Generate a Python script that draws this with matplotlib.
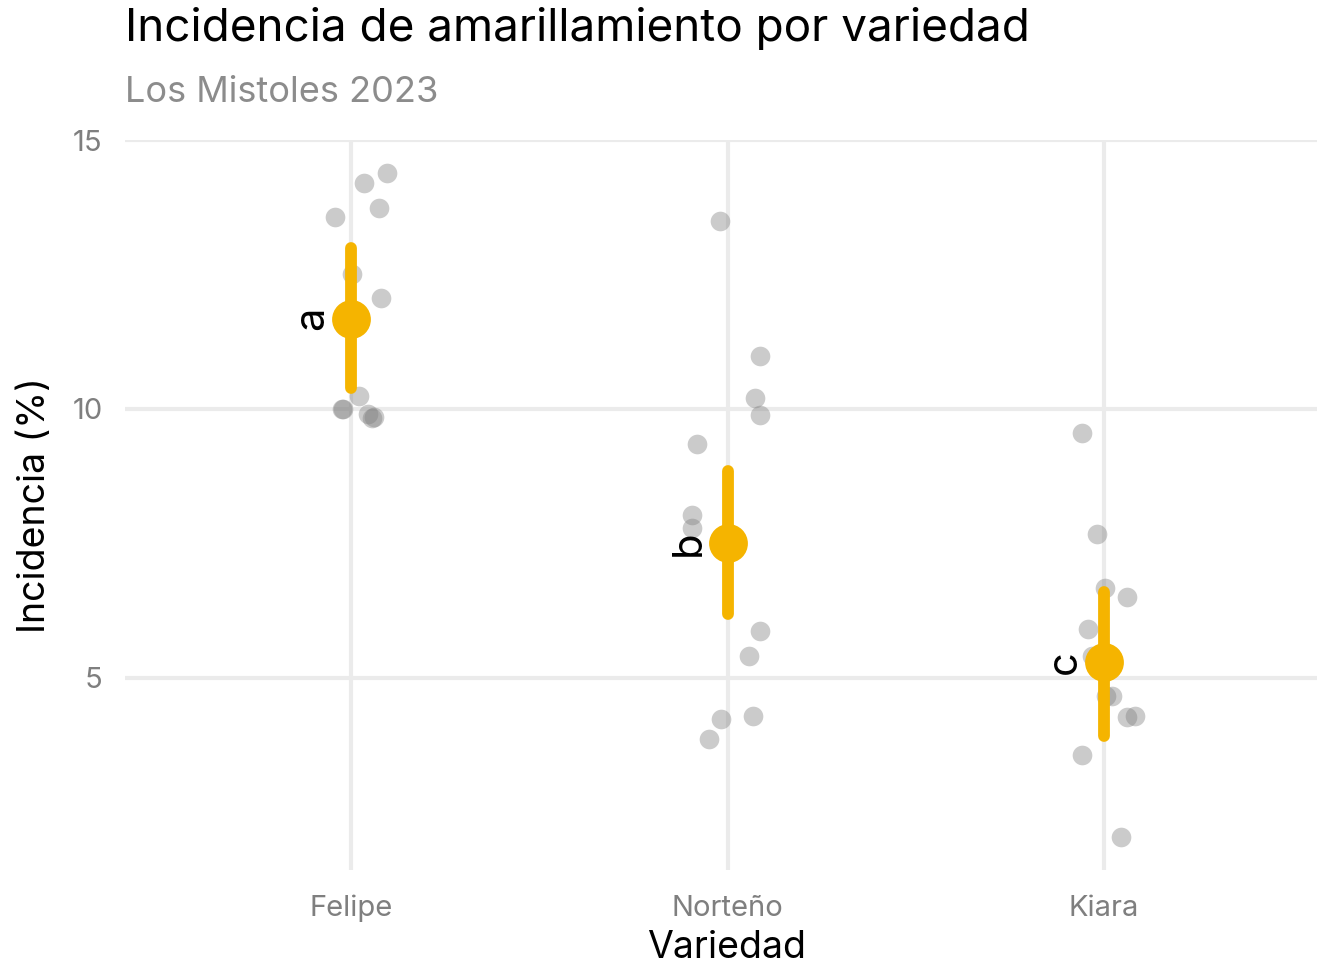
import matplotlib
matplotlib.use("Agg")
import matplotlib.pyplot as plt

plt.rcParams['font.family'] = ['Inter', 'DejaVu Sans']

# ---- data ----
variedades = ["Felipe", "Norteño", "Kiara"]
felipe_obs = [14.39, 14.20, 13.74, 13.57, 12.51, 12.07, 10.25, 10.00, 10.00, 9.91, 9.84, 9.86]
felipe_jit = [0.095, 0.035, 0.075, -0.042, 0.003, 0.080, 0.021, -0.024, -0.022, 0.045, 0.056, 0.060]
norteno_obs = [13.50, 10.99, 10.21, 9.89, 9.34, 8.02, 7.78, 5.87, 5.40, 4.29, 4.24, 3.87]
norteno_jit = [-0.019, 0.085, 0.072, 0.085, -0.080, -0.095, -0.095, 0.085, 0.056, 0.069, -0.016, -0.050]
kiara_obs = [9.55, 7.67, 6.67, 6.50, 5.91, 5.41, 4.67, 4.67, 4.27, 4.29, 3.57, 2.05]
kiara_jit = [-0.058, -0.019, 0.003, 0.061, -0.042, -0.032, 0.005, 0.021, 0.061, 0.082, -0.058, 0.045]
medias = [11.68, 7.50, 5.30]
ic_inf = [10.39, 6.18, 3.93]
ic_sup = [12.99, 8.84, 6.60]
letras = ["a", "b", "c"]

obs = [felipe_obs, norteno_obs, kiara_obs]
jit = [felipe_jit, norteno_jit, kiara_jit]

YELLOW = "#F5B400"
GRID = "#EBEBEB"
W, H = 1317, 969

fig = plt.figure(figsize=(W/100, H/100), dpi=100)
ax = fig.add_axes([125/W, (H-870)/H, (1330-125)/W, (870-140)/H])

for i, (ys, js) in enumerate(zip(obs, jit)):
    xs = [i + 1 + j for j in js]
    ax.scatter(xs, ys, s=200, color="#7F7F7F", alpha=0.4, linewidths=0, zorder=3)

for i in range(3):
    x = i + 1
    ax.plot([x, x], [ic_inf[i], ic_sup[i]], color=YELLOW, lw=8.5, solid_capstyle="round", zorder=4)
    ax.scatter([x], [medias[i]], s=780, color=YELLOW, linewidths=0, zorder=5)
    ax.text(x - 0.074, medias[i], letras[i], rotation=90, rotation_mode="anchor",
            ha="center", va="baseline", fontsize=30, color="black", zorder=6)

ax.set_xlim(0.4, 3.6)
ax.set_ylim(1.43, 15.0)
ax.set_xticks([1, 2, 3])
ax.set_xticklabels(variedades)
ax.set_yticks([5, 10, 15])
ax.tick_params(axis="both", length=0, labelsize=21, labelcolor="#7F7F7F")
ax.tick_params(axis="x", pad=18)
ax.tick_params(axis="y", pad=16)
ax.grid(True, color=GRID, lw=3)
ax.set_axisbelow(True)
for sp in ax.spines.values():
    sp.set_visible(False)

ax.set_xlabel("Variedad", fontsize=27, color="black", va="center")
ax.xaxis.set_label_coords(727/W, 1 - 948/H, transform=fig.transFigure)
ax.set_ylabel("Incidencia (%)", fontsize=27, color="black", va="center")
ax.yaxis.set_label_coords(35/W, 1 - 505/H, transform=fig.transFigure)

fig.text(125/W, 1 - 28/H, "Incidencia de amarillamiento por variedad",
         fontsize=33, color="black", ha="left", va="center")
fig.text(125/W, 1 - 92/H, "Los Mistoles 2023",
         fontsize=26, color="#8C8C8C", ha="left", va="center")

fig.savefig("out.png", dpi=100)
